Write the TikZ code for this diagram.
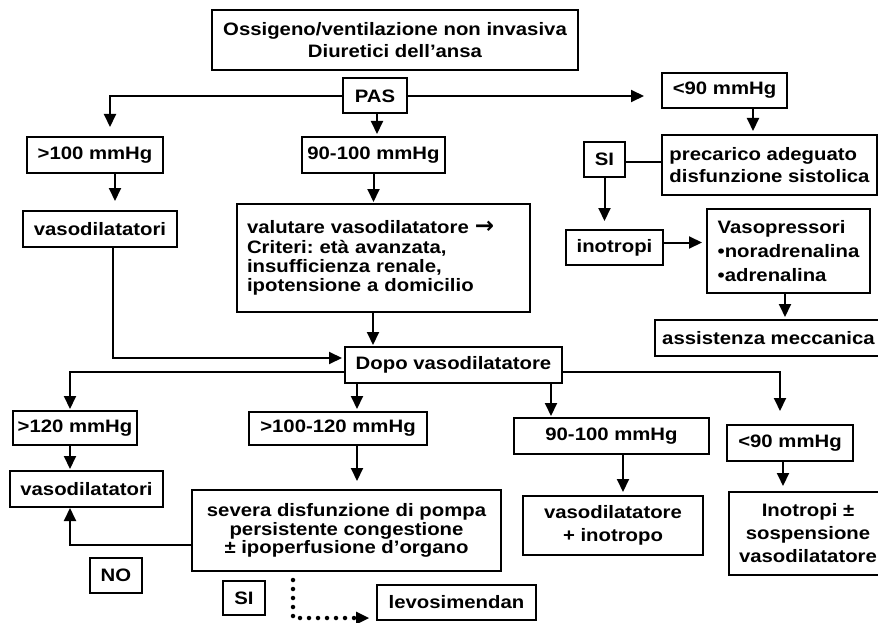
\documentclass[tikz,border=0pt]{standalone}
\usepackage{fontspec}
\setmainfont{Liberation Sans}[FakeStretch=1.13]
\newfontfamily\arrowfont{DejaVu Sans}
\usetikzlibrary{arrows.meta}
\tikzset{
  box/.style={draw, line width=2pt, inner sep=0pt, font=\frenchspacing\bfseries\fontsize{18}{22}\selectfont, align=center},
  ln/.style={line width=2pt},
  arr/.style={line width=2pt, -{Triangle[length=13pt,width=12pt]}},
  dotarr/.style={line width=4.5pt, line cap=round, dash pattern=on 0pt off 9pt, -{Triangle[length=13pt,width=13pt,line width=0pt]}}
}
\begin{document}
\begin{tikzpicture}[x=1pt,y=-1pt]
\useasboundingbox (0,0) rectangle (878,623);
% nodes
\node[box, minimum width=366, minimum height=60] (top) at (395,40) {Ossigeno/ventilazione non invasiva\\Diuretici dell’ansa};
\node[box, minimum width=64, minimum height=35] (pas) at (375,96) {PAS};
\node[box, minimum width=136, minimum height=36] (g100) at (95,155) {>100 mmHg};
\node[box, minimum width=143, minimum height=36] (m90100) at (373.5,155) {90-100 mmHg};
\node[box, minimum width=125, minimum height=35] (l90) at (724.5,90.5) {<90 mmHg};
\node[box, minimum width=215, minimum height=60, align=left] (pre) at (769.5,165) {precarico adeguato\\disfunzione sistolica};
\node[box, minimum width=41, minimum height=35] (si1) at (604.5,159.5) {SI};
\node[box, minimum width=154, minimum height=36] (vaso1) at (100,229) {vasodilatatori};
\node[box, minimum width=293, minimum height=108, text width=273, align=left, font=\frenchspacing\bfseries\fontsize{18}{19.3}\selectfont] (val) at (383.5,258) {valutare vasodilatatore {\arrowfont\bfseries\fontsize{23}{19}\selectfont →}\\Criteri: età avanzata,\\insufficienza renale,\\ipotensione a domicilio};
\node[box, minimum width=97, minimum height=35] (ino) at (614.5,247.5) {inotropi};
\node[box, minimum width=163, minimum height=84, align=left, font=\frenchspacing\bfseries\fontsize{18}{24}\selectfont] (vp) at (788.5,251) {Vasopressori\\•noradrenalina\\•adrenalina};
\node[box, minimum width=227, minimum height=36] (assist) at (768.5,338) {assistenza meccanica};
\node[box, minimum width=217, minimum height=36] (dopo) at (453.5,365) {Dopo vasodilatatore};
\node[box, minimum width=124, minimum height=34] (g120) at (75,428) {>120 mmHg};
\node[box, minimum width=178, minimum height=33] (g100120) at (338,428.5) {>100-120 mmHg};
\node[box, minimum width=195, minimum height=36] (m90100b) at (611.5,436) {90-100 mmHg};
\node[box, minimum width=126, minimum height=36] (l90b) at (790,443) {<90 mmHg};
\node[box, minimum width=153, minimum height=36] (vaso2) at (86.5,489) {vasodilatatori};
\node[box, minimum width=309, minimum height=81, font=\frenchspacing\bfseries\fontsize{18}{18.5}\selectfont] (sev) at (346.5,530.5) {severa disfunzione di pompa\\persistente congestione\\± ipoperfusione d’organo};
\node[box, minimum width=180, minimum height=59, font=\frenchspacing\bfseries\fontsize{18}{23}\selectfont] (vi) at (613,525.5) {vasodilatatore\\+ inotropo};
\node[box, minimum width=158, minimum height=83, font=\frenchspacing\bfseries\fontsize{18}{23}\selectfont] (inoB) at (808,533.5) {Inotropi ±\\sospensione\\vasodilatatore};
\node[box, minimum width=52, minimum height=35] (no) at (116,575.5) {NO};
\node[box, minimum width=42, minimum height=34] (si2) at (244,598) {SI};
\node[box, minimum width=159, minimum height=35] (levo) at (456.5,602.5) {levosimendan};
% connectors
\draw[arr, shorten >=9pt] (pas.west) -| ([xshift=15pt]g100.north);
\draw[arr, shorten >=17pt] (pas.east) -- (l90.west |- pas.east);
\draw[arr, shorten >=2pt] ([xshift=2pt]pas.south) -- ([xshift=2pt]pas.south |- m90100.north);
\draw[arr, shorten >=9pt] ([xshift=20pt]g100.south) -- ([xshift=20pt]g100.south |- vaso1.north);
\draw[arr, shorten >=1pt] (m90100.south) -- (m90100.south |- val.north);
\draw[arr, shorten >=3pt] ([xshift=28.5pt]l90.south) -- ([xshift=28.5pt]l90.south |- pre.north);
\draw[ln] ([yshift=-2.5pt]si1.east) -- ([yshift=-2.5pt]si1.east -| pre.west);
\draw[arr, shorten >=8pt] (si1.south) -- (si1.south |- ino.north);
\draw[arr, shorten >=4pt] ([yshift=5pt]ino.east) -- ([yshift=5pt]ino.east -| vp.west);
\draw[arr, shorten >=2pt] ([xshift=-3.5pt]vp.south) -- ([xshift=-3.5pt]vp.south |- assist.north);
\draw[arr, shorten >=2pt] ([xshift=13pt]vaso1.south) |- ([yshift=7pt]dopo.west);
\draw[arr, shorten >=1pt] ([xshift=-10.5pt]val.south) -- ([xshift=-10.5pt]val.south |- dopo.north);
\draw[arr, shorten >=1pt] ([yshift=-7pt]dopo.west) -| ([xshift=-5pt]g120.north);
\draw[arr, shorten >=13pt] ([yshift=-7pt]dopo.east) -| ([xshift=-10pt]l90b.north);
\draw[arr, shorten >=2pt] ([xshift=-96.5pt]dopo.south) -- ([xshift=-96.5pt]dopo.south |- g100120.north);
\draw[arr, shorten >=1pt] ([xshift=97.5pt]dopo.south) -- ([xshift=97.5pt]dopo.south |- m90100b.north);
\draw[arr, shorten >=1pt] ([xshift=-5pt]g120.south) -- ([xshift=-5pt]g120.south |- vaso2.north);
\draw[arr, shorten >=8pt] ([xshift=19pt]g100120.south) -- ([xshift=19pt]g100120.south |- sev.north);
\draw[arr, shorten >=3pt] ([xshift=11.5pt]m90100b.south) -- ([xshift=11.5pt]m90100b.south |- vi.north);
\draw[arr, shorten >=5pt] ([xshift=-7pt]l90b.south) -- ([xshift=-7pt]l90b.south |- inoB.north);
\draw[arr] ([yshift=-14.5pt]sev.west) -| ([xshift=-16.5pt]vaso2.south);
\coordinate (d1) at (293,580);
\draw[dotarr, shorten >=7pt] (d1) |- ([yshift=-15.5pt]levo.west);
\end{tikzpicture}
\end{document}
